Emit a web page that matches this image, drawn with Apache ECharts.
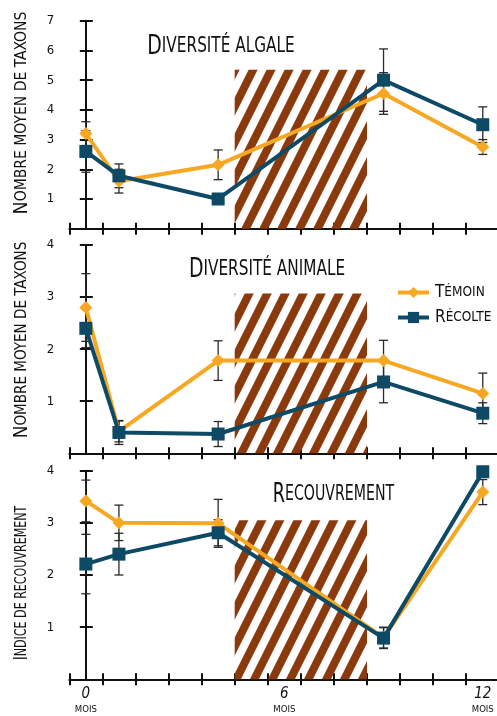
<!DOCTYPE html>
<html>
<head>
<meta charset="utf-8">
<script src="https://cdn.jsdelivr.net/npm/echarts@6/dist/echarts.min.js"></script>
<style>
  html, body { margin: 0; padding: 0; background: #fff; }
  #chart { width: 497px; height: 716px; }
</style>
</head>
<body>
<div id="chart"></div>
<script>
// Sampling dates (months after harvest)
const months = [0, 1, 4, 9, 12];
const monthTicks = [-0.5, 0.5, 1.5, 2.5, 3.5, 4.5, 5.5, 6.5, 7.5, 8.5, 9.5, 10.5, 11.5];
const monthLabels = [0, 6, 12];
const seriesNames = ['Témoin', 'Récolte'];

// Diversité algale
const algaeTemoin = [3.2, 1.6, 2.15, 4.55, 2.75];
const algaeTemoinErr = [0.4, 0.4, 0.5, 0.7, 0.25];
const algaeRecolte = [2.6, 1.78, 1.0, 5.0, 3.5];
const algaeRecolteErr = [0.7, 0.4, 0.05, 1.05, 0.6];

// Diversité animale
const animalTemoin = [2.8, 0.42, 1.78, 1.78, 1.15];
const animalTemoinErr = [0.65, 0.2, 0.38, 0.39, 0.39];
const animalRecolte = [2.4, 0.4, 0.37, 1.37, 0.77];
const animalRecolteErr = [0.37, 0.23, 0.24, 0.4, 0.2];

// Recouvrement
const coverTemoin = [3.42, 3.0, 2.99, 0.8, 3.59];
const coverTemoinErr = [0.4, 0.34, 0.46, 0.2, 0.24];
const coverRecolte = [2.21, 2.4, 2.81, 0.79, 3.98];
const coverRecolteErr = [0.57, 0.4, 0.25, 0.2, 0.05];

// Recovery window shown as a hatched band
const windowStart = 4.5;
const windowEnd = 8.5;
const windowTop = [5.35, 3.07, 3.05];

const ORANGE = '#F7A823';
const BLUE = '#0E4A66';
const BROWN = '#8B3A0E';
const INK = '#111111';
const FONT = '"DejaVu Sans Condensed", "Roboto", sans-serif';

const panels = [
  { title: 'Diversité algale', yName: 'Nombre moyen de taxons', yMax: 7,
    temoin: algaeTemoin, temoinErr: algaeTemoinErr, recolte: algaeRecolte, recolteErr: algaeRecolteErr,
    top: 20.7, height: 208, floor: -0.2,
    titlePos: [221, 47], titleScale: 0.81, namePos: [22, 113], nameScale: 0.97 },
  { title: 'Diversité animale', yName: 'Nombre moyen de taxons', yMax: 4,
    temoin: animalTemoin, temoinErr: animalTemoinErr, recolte: animalRecolte, recolteErr: animalRecolteErr,
    top: 245, height: 208.3, floor: -0.12,
    titlePos: [267, 270], titleScale: 0.81, namePos: [22, 340], nameScale: 0.94 },
  { title: 'Recouvrement', yName: 'Indice de recouvrement', yMax: 4,
    temoin: coverTemoin, temoinErr: coverTemoinErr, recolte: coverRecolte, recolteErr: coverRecolteErr,
    top: 470.7, height: 208.6, floor: -0.12,
    titlePos: [333.5, 495], titleScale: 0.75, namePos: [22, 583], nameScale: 0.77 }
];

function hatchPattern() {
  const W = 18, H = 36;
  const c = document.createElement('canvas');
  c.width = W; c.height = H;
  const g = c.getContext('2d');
  g.strokeStyle = BROWN;
  g.lineWidth = 8;
  for (let k = -1; k <= 1; k++) {
    g.beginPath();
    g.moveTo(k * W - W, 2 * H);
    g.lineTo(k * W + 2 * W, -H);
    g.stroke();
  }
  return { image: c, repeat: 'repeat' };
}
const hatch = hatchPattern();

// First letter large, the rest in small capitals
function smallCaps(text, big, small) {
  return '{' + big + '|' + text[0].toUpperCase() + '}{' + small + '|' + text.slice(1).toUpperCase() + '}';
}

function errorBars(values, errs, gi) {
  return {
    type: 'custom',
    xAxisIndex: gi * 2, yAxisIndex: gi * 2,
    z: 3,
    silent: true,
    data: months.map((m, k) => [m, values[k] - errs[k], values[k] + errs[k]]),
    encode: { x: 0, y: [1, 2] },
    renderItem(params, api) {
      const x = api.value(0);
      const lo = api.coord([x, api.value(1)]);
      const hi = api.coord([x, api.value(2)]);
      const w = 4.5;
      const st = { stroke: '#2a2a2a', lineWidth: 1.3 };
      return {
        type: 'group',
        children: [
          { type: 'line', shape: { x1: lo[0], y1: lo[1], x2: hi[0], y2: hi[1] }, style: st },
          { type: 'line', shape: { x1: lo[0] - w, y1: lo[1], x2: lo[0] + w, y2: lo[1] }, style: st },
          { type: 'line', shape: { x1: hi[0] - w, y1: hi[1], x2: hi[0] + w, y2: hi[1] }, style: st }
        ]
      };
    }
  };
}

const grids = [], xAxes = [], yAxes = [], series = [], graphics = [];

panels.forEach((p, i) => {
  grids.push({ left: 69.3, width: 427.7, top: p.top, height: p.height });

  const isLast = i === panels.length - 1;
  const xCommon = {
    type: 'value', gridIndex: i, min: -0.5, max: 12.43, position: 'bottom',
    splitLine: { show: false }
  };
  xAxes.push(Object.assign({}, xCommon, {
    axisLine: { show: true, lineStyle: { color: INK, width: 2 } },
    axisTick: { show: true, customValues: monthTicks, length: 6, lineStyle: { color: INK, width: 2 } },
    axisLabel: {
      show: isLast, customValues: monthLabels, margin: 7,
      formatter: v => '{n|' + v + '}\n{m|MOIS}',
      rich: {
        n: { fontFamily: FONT, fontSize: 15, lineHeight: 16, color: INK, fontStyle: 'italic' },
        m: { fontFamily: FONT, fontSize: 9.5, lineHeight: 15, color: INK }
      }
    }
  }));
  xAxes.push(Object.assign({}, xCommon, {
    axisLine: { show: false },
    axisTick: { show: true, inside: true, customValues: monthTicks, length: 6, lineStyle: { color: INK, width: 2 } },
    axisLabel: { show: false }
  }));

  const yCommon = {
    type: 'value', gridIndex: i, min: 0, max: p.yMax, interval: 1, position: 'left',
    splitLine: { show: false }
  };
  yAxes.push(Object.assign({}, yCommon, {
    axisLine: { show: true, lineStyle: { color: INK, width: 2 } },
    axisTick: { show: true, length: 6, lineStyle: { color: INK, width: 2 } },
    axisLabel: {
      margin: 15, color: INK, fontFamily: FONT, fontSize: 13,
      formatter: v => (v === 0 ? '' : String(v))
    }
  }));
  yAxes.push(Object.assign({}, yCommon, {
    axisLine: { show: false },
    axisTick: { show: true, inside: true, length: 7, lineStyle: { color: INK, width: 2 } },
    axisLabel: { show: false }
  }));

  // hatched recovery window
  series.push({
    type: 'line', xAxisIndex: i * 2, yAxisIndex: i * 2, data: [], z: 1, clip: false, silent: true,
    markArea: {
      silent: true,
      itemStyle: { color: hatch },
      data: [[{ xAxis: windowStart, yAxis: p.floor }, { xAxis: windowEnd, yAxis: windowTop[i] }]]
    }
  });

  series.push(errorBars(p.temoin, p.temoinErr, i));
  series.push(errorBars(p.recolte, p.recolteErr, i));

  series.push({
    name: seriesNames[0], type: 'line', xAxisIndex: i * 2, yAxisIndex: i * 2, z: 4,
    data: months.map((m, k) => [m, p.temoin[k]]),
    symbol: 'diamond', symbolSize: 13,
    lineStyle: { color: ORANGE, width: 4 },
    itemStyle: { color: ORANGE },
    emphasis: { disabled: true }
  });
  series.push({
    name: seriesNames[1], type: 'line', xAxisIndex: i * 2, yAxisIndex: i * 2, z: 5,
    data: months.map((m, k) => [m, p.recolte[k]]),
    symbol: 'rect', symbolSize: 13,
    lineStyle: { color: BLUE, width: 4 },
    itemStyle: { color: BLUE },
    emphasis: { disabled: true }
  });

  graphics.push({
    type: 'text', x: p.titlePos[0], y: p.titlePos[1], scaleX: p.titleScale, z: 10,
    style: {
      text: smallCaps(p.title, 'b', 's'),
      align: 'center', verticalAlign: 'middle',
      rich: {
        b: { fontFamily: FONT, fontSize: 26, fill: INK, color: INK },
        s: { fontFamily: FONT, fontSize: 21, fill: INK, color: INK }
      }
    }
  });
  graphics.push({
    type: 'text', x: p.namePos[0], y: p.namePos[1], rotation: Math.PI / 2, scaleX: p.nameScale, z: 10,
    style: {
      text: smallCaps(p.yName, 'b', 's'),
      align: 'center', verticalAlign: 'middle',
      rich: {
        b: { fontFamily: FONT, fontSize: 20, fill: INK, color: INK },
        s: { fontFamily: FONT, fontSize: 16, fill: INK, color: INK }
      }
    }
  });
});

const chart = echarts.init(document.getElementById('chart'), null, { renderer: 'canvas' });
chart.setOption({
  animation: false,
  backgroundColor: '#ffffff',
  grid: grids,
  xAxis: xAxes,
  yAxis: yAxes,
  legend: {
    data: seriesNames,
    left: 396, top: 284,
    padding: 0,
    orient: 'vertical',
    itemWidth: 31, itemHeight: 14, itemGap: 8,
    lineStyle: { width: 4 },
    formatter: name => smallCaps(name, 'b', 's'),
    textStyle: {
      padding: [0, 0, 0, 1],
      rich: {
        b: { fontFamily: FONT, fontSize: 17, color: INK },
        s: { fontFamily: FONT, fontSize: 13.5, color: INK }
      }
    }
  },
  series: series,
  graphic: graphics
});
</script>
</body>
</html>
